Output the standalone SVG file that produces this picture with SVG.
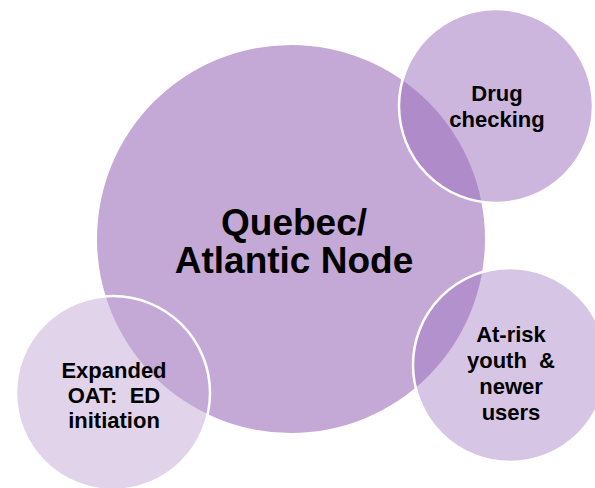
<svg xmlns="http://www.w3.org/2000/svg" width="595" height="488" viewBox="0 0 595 488">
<style>
.t{font-family:"Liberation Sans",Arial,sans-serif;font-weight:bold;fill:#000;text-anchor:middle}
.s{font-size:22px}
.m{font-size:37px}
.sat{stroke:#fff;stroke-width:2.5}
</style>
<rect width="595" height="488" fill="#fff"/>
<g id="node-main">
<circle cx="291" cy="239" r="194" fill="#C4A9D6"/>
<text class="t m" x="294" y="235">Quebec/</text>
<text class="t m" x="294" y="273">Atlantic Node</text>
</g>
<g id="node-drug">
<circle class="sat" cx="496" cy="106" r="97" fill="#9C6DBE" fill-opacity="0.5"/>
<text class="t s" x="497" y="101">Drug</text>
<text class="t s" x="497" y="127">checking</text>
</g>
<g id="node-youth">
<circle class="sat" cx="510" cy="365" r="97" fill="#9C6DBE" fill-opacity="0.4"/>
<text class="t s" x="511" y="342">At-risk</text>
<text class="t s" x="511" y="368" xml:space="preserve">youth  &amp;</text>
<text class="t s" x="511" y="394">newer</text>
<text class="t s" x="511" y="420">users</text>
</g>
<g id="node-oat">
<circle class="sat" cx="113" cy="393" r="97" fill="#C4A9D6" fill-opacity="0.5"/>
<text class="t s" x="114" y="378">Expanded</text>
<text class="t s" x="114" y="403" xml:space="preserve">OAT:  ED</text>
<text class="t s" x="114" y="428">initiation</text>
</g>
<g id="connectors"></g>
</svg>
